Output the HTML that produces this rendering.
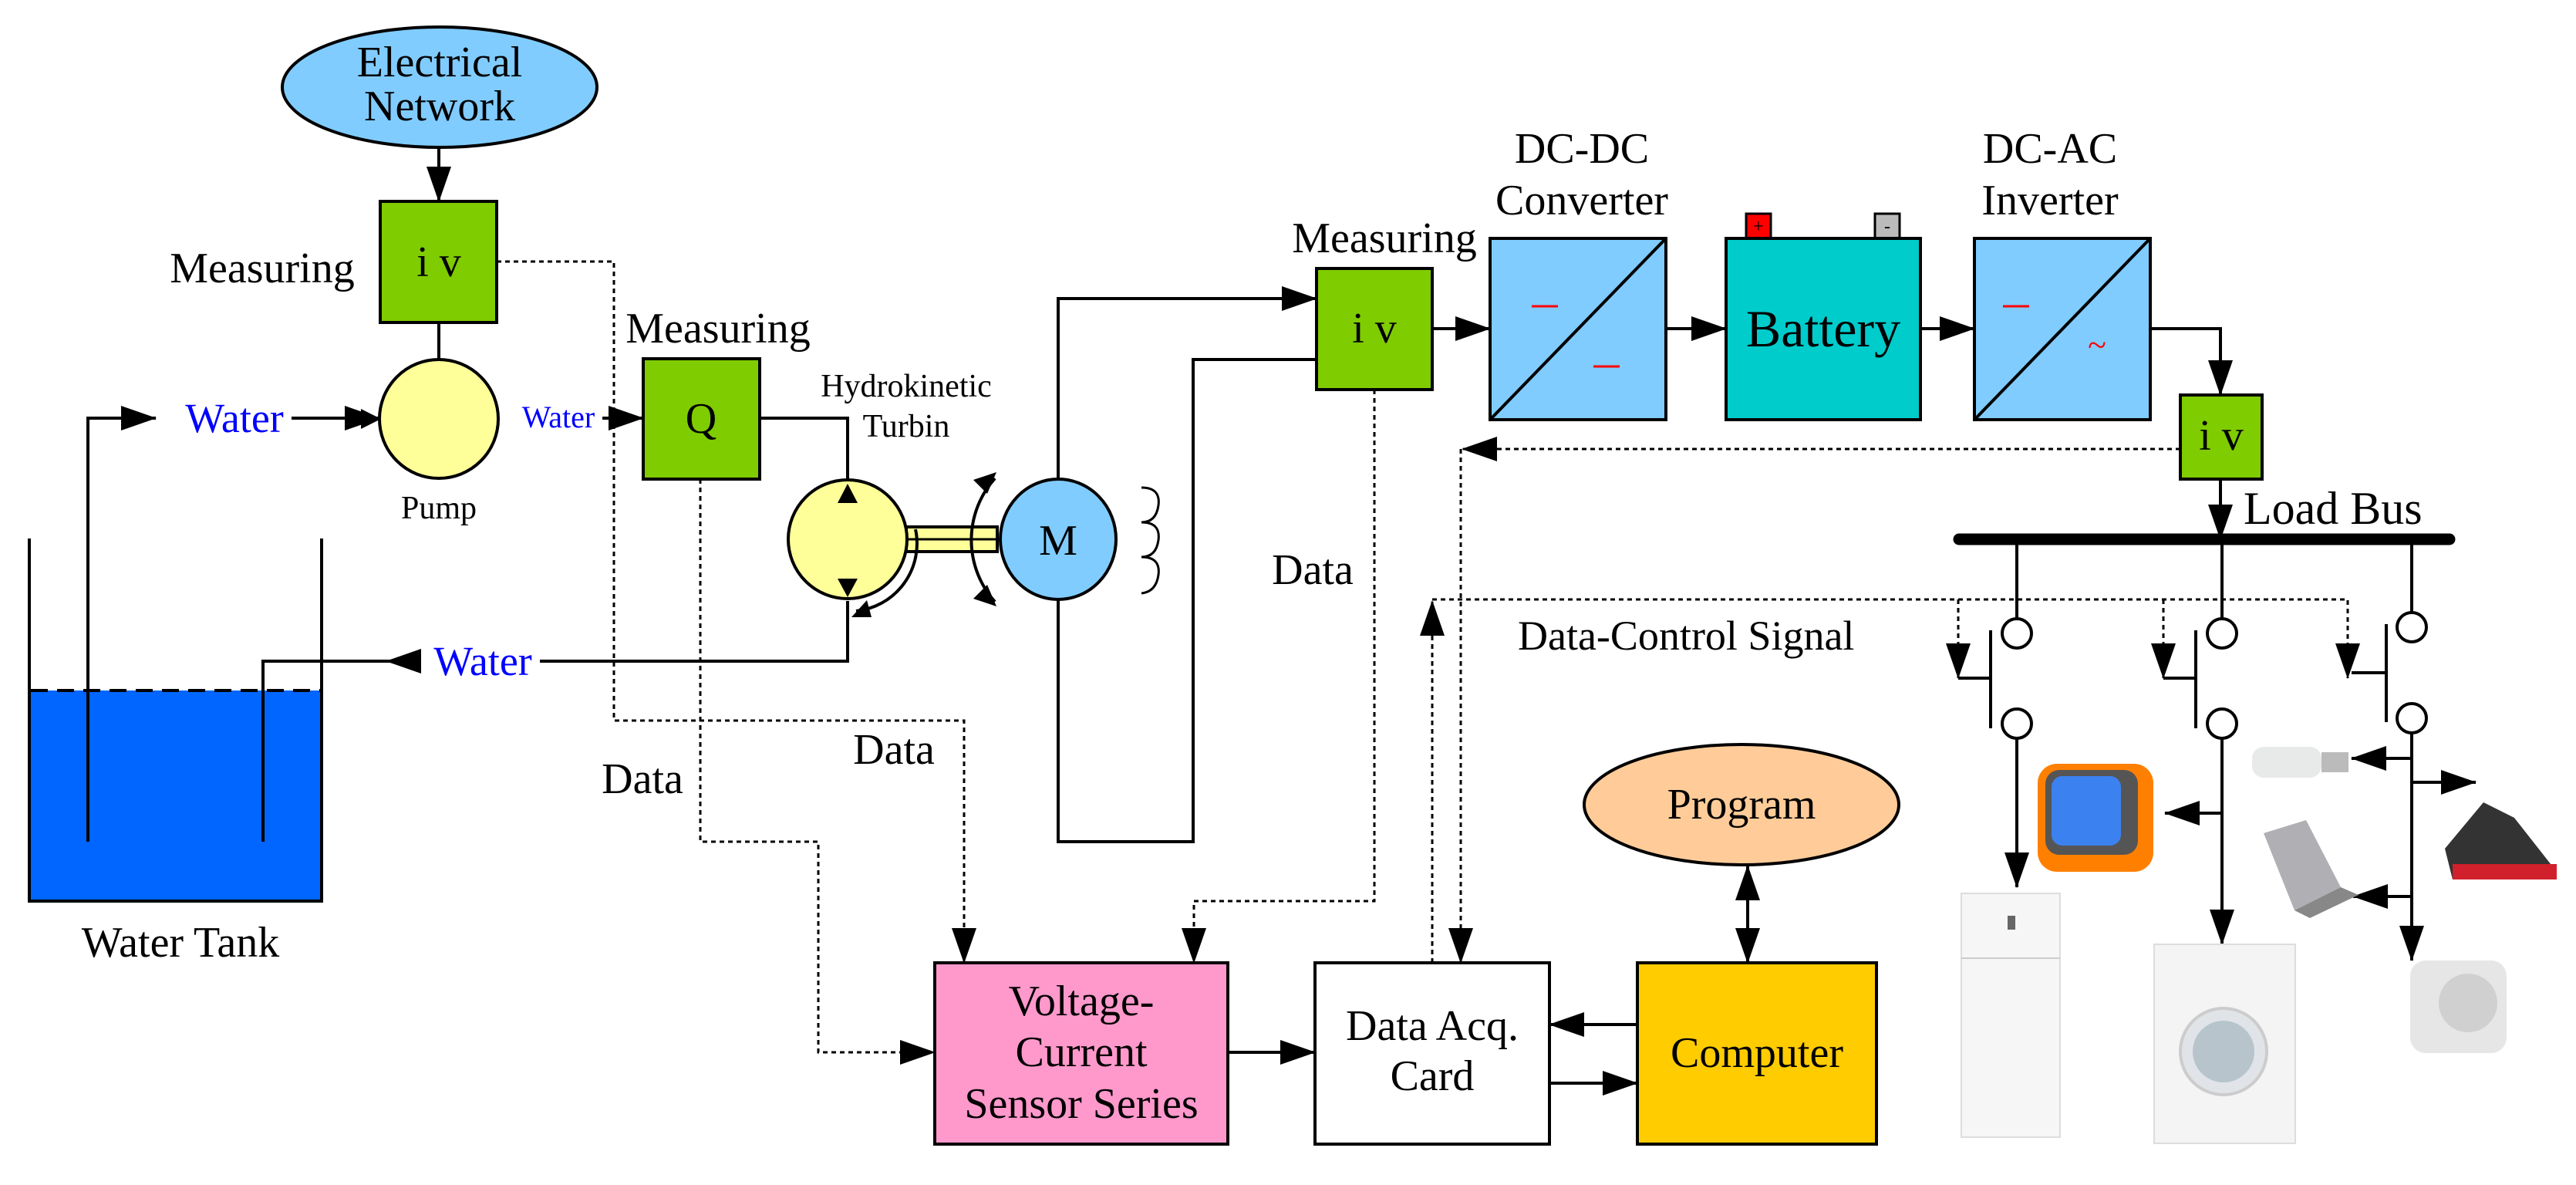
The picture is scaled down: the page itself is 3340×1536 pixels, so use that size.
<!DOCTYPE html>
<html><head><meta charset="utf-8"><style>
html,body{margin:0;padding:0;background:#fff}
svg{display:block}
text{font-family:"Liberation Serif",serif;fill:#000}
</style></head><body>
<svg width="3340" height="1536" viewBox="0 0 3340 1536" xmlns="http://www.w3.org/2000/svg">
<defs>
<marker id="a" markerUnits="userSpaceOnUse" markerWidth="46" markerHeight="32" refX="45" refY="16" orient="auto"><path d="M0,0 L46,16 L0,32 z" fill="#000"/></marker>
</defs>
<g stroke="#000" stroke-width="4" fill="none">
<ellipse cx="570" cy="113" rx="204" ry="78" fill="#80ccff"/>
<line x1="569" y1="191" x2="569" y2="261" marker-end="url(#a)"/>
<rect x="493" y="261" width="151" height="157" fill="#7fcc00"/>
<line x1="569" y1="418" x2="569" y2="465"/>
<circle cx="569" cy="543" r="77" fill="#ffff99"/>
<rect x="40" y="895" width="375" height="273" fill="#0066ff" stroke="none"/>
<polyline points="38,698 38,1168 417,1168 417,698"/>
<line x1="40" y1="895" x2="415" y2="895" stroke-dasharray="22,12"/>
<polyline points="114,1091 114,542 202,542" marker-end="url(#a)"/>
<line x1="378" y1="542" x2="492" y2="542" marker-end="url(#a)"/>
<line x1="781" y1="542" x2="834" y2="542" marker-end="url(#a)"/>
<rect x="834" y="465" width="151" height="156" fill="#7fcc00"/>
<polyline points="985,542 1099,542 1099,622"/>
<rect x="1175" y="683" width="118" height="32" fill="#ffff99"/>
<line x1="1175" y1="699" x2="1293" y2="699" stroke-width="3"/>
<circle cx="1099" cy="699" r="77" fill="#ffff99"/>
<path d="M1187,686 A88,88 0 0 1 1110,792" />
<path d="M1290,620 A120,120 0 0 0 1290,780"/>
<ellipse cx="1372" cy="699" rx="75" ry="78" fill="#80ccff"/>
<path d="M1480,632 q25,0 22,23 q-3,22 -22,22 q25,0 22,23 q-3,22 -22,22 q25,0 22,23 q-3,22 -22,24" stroke-width="3"/>
<polyline points="1099,779 1099,857 700,857" />
<polyline points="546,857 341,857 341,1091"/>
<polyline points="1372,621 1372,387 1707,387" marker-end="url(#a)"/>
<polyline points="1372,777 1372,1091 1547,1091 1547,466 1707,466"/>
<g stroke-width="3" stroke-dasharray="6,5">
<polyline points="644,339 796,339 796,934 1250,934 1250,1248" marker-end="url(#a)"/>
<polyline points="908,621 908,1091 1061,1091 1061,1364 1212,1364" marker-end="url(#a)"/>
<polyline points="1782,505 1782,1168 1548,1168 1548,1248" marker-end="url(#a)"/>
<polyline points="2827,582 1896,582" marker-end="url(#a)"/>
<polyline points="1894,582 1894,1248" marker-end="url(#a)"/>
<polyline points="1857,1248 1857,779" marker-end="url(#a)"/>
<polyline points="1857,777 3044,777 3044,879" marker-end="url(#a)"/>
<polyline points="2539,777 2539,879" marker-end="url(#a)"/>
<polyline points="2805,777 2805,879" marker-end="url(#a)"/>
</g>
<rect x="1212" y="1248" width="380" height="235" fill="#ff99cc"/>
<line x1="1592" y1="1364" x2="1705" y2="1364" marker-end="url(#a)"/>
<rect x="1705" y="1248" width="304" height="235" fill="#fff"/>
<rect x="2123" y="1248" width="310" height="235" fill="#ffcc00"/>
<line x1="2123" y1="1328" x2="2009" y2="1328" marker-end="url(#a)"/>
<line x1="2009" y1="1404" x2="2123" y2="1404" marker-end="url(#a)"/>
<ellipse cx="2258" cy="1043" rx="204" ry="78" fill="#ffcc99"/>
<line x1="2266" y1="1180" x2="2266" y2="1248" marker-end="url(#a)"/>
<line x1="2266" y1="1190" x2="2266" y2="1122" marker-end="url(#a)"/>
<rect x="1707" y="348" width="150" height="157" fill="#7fcc00"/>
<line x1="1857" y1="426" x2="1932" y2="426" marker-end="url(#a)"/>
<rect x="1932" y="309" width="228" height="235" fill="#80ccff"/>
<line x1="1932" y1="544" x2="2160" y2="309"/>
<line x1="2160" y1="426" x2="2238" y2="426" marker-end="url(#a)"/>
<rect x="2264" y="277" width="32" height="32" fill="#ff0000" stroke-width="3"/>
<rect x="2431" y="277" width="32" height="32" fill="#bbbbbb" stroke-width="3"/>
<rect x="2238" y="309" width="252" height="235" fill="#00cccc"/>
<line x1="2490" y1="426" x2="2560" y2="426" marker-end="url(#a)"/>
<rect x="2560" y="309" width="228" height="235" fill="#80ccff"/>
<line x1="2560" y1="544" x2="2788" y2="309"/>
<polyline points="2788,426 2879,426 2879,512" marker-end="url(#a)"/>
<rect x="2827" y="512" width="106" height="109" fill="#7fcc00"/>
<line x1="2879" y1="621" x2="2879" y2="699" marker-end="url(#a)"/>
<line x1="2540" y1="699" x2="3176" y2="699" stroke-width="15" stroke-linecap="round"/>
<line x1="2615" y1="699" x2="2615" y2="802"/><circle cx="2615" cy="821" r="19" fill="#fff"/>
<line x1="2581" y1="817" x2="2581" y2="944"/><line x1="2539" y1="879" x2="2581" y2="879"/>
<circle cx="2615" cy="938" r="19" fill="#fff"/><line x1="2615" y1="957" x2="2615" y2="1150" marker-end="url(#a)"/>
<line x1="2881" y1="699" x2="2881" y2="802"/><circle cx="2881" cy="821" r="19" fill="#fff"/>
<line x1="2847" y1="817" x2="2847" y2="944"/><line x1="2805" y1="879" x2="2847" y2="879"/>
<circle cx="2881" cy="938" r="19" fill="#fff"/><line x1="2881" y1="957" x2="2881" y2="1224" marker-end="url(#a)"/>
<line x1="2881" y1="1054" x2="2807" y2="1054" marker-end="url(#a)"/>
<line x1="3127" y1="699" x2="3127" y2="794"/><circle cx="3127" cy="813" r="19" fill="#fff"/>
<line x1="3094" y1="809" x2="3094" y2="936"/><line x1="3049" y1="872" x2="3094" y2="872"/>
<circle cx="3127" cy="931" r="19" fill="#fff"/><line x1="3127" y1="950" x2="3127" y2="1245" marker-end="url(#a)"/>
<line x1="3127" y1="983" x2="3049" y2="983" marker-end="url(#a)"/>
<line x1="3127" y1="1014" x2="3210" y2="1014" marker-end="url(#a)"/>
<line x1="3127" y1="1162" x2="3051" y2="1162" marker-end="url(#a)"/>
</g>
<polygon points="500,857 546,841 546,873" fill="#000"/>
<polygon points="468,530 494,543 468,556" fill="#000"/>
<polygon points="1086,652 1099,627 1112,652" fill="#000"/>
<polygon points="1086,750 1112,750 1099,774" fill="#000"/>
<polygon points="1104,800 1124,778 1130,800" fill="#000"/>
<polygon points="1262,622 1292,612 1280,640" fill="#000"/>
<polygon points="1262,776 1292,786 1280,758" fill="#000"/>
<line x1="1986" y1="397" x2="2020" y2="397" stroke="#ff0000" stroke-width="3"/>
<line x1="2066" y1="475" x2="2100" y2="475" stroke="#ff0000" stroke-width="3"/>
<line x1="2597" y1="397" x2="2631" y2="397" stroke="#ff0000" stroke-width="3"/>
<text x="2719" y="462" font-size="44" text-anchor="middle" style="fill:#ff0000">~</text>
<text x="2280" y="301" font-size="24" text-anchor="middle">+</text>
<text x="2447" y="301" font-size="24" text-anchor="middle">-</text>
<rect x="2543" y="1158" width="128" height="316" fill="#f6f6f6" stroke="#ddd" stroke-width="2"/>
<line x1="2543" y1="1242" x2="2671" y2="1242" stroke="#ccc" stroke-width="2"/>
<rect x="2603" y="1187" width="10" height="18" fill="#666"/>
<rect x="2642" y="990" width="150" height="140" rx="25" fill="#ff8000"/>
<rect x="2652" y="998" width="120" height="110" rx="18" fill="#555"/>
<rect x="2660" y="1006" width="90" height="90" rx="14" fill="#3b82f0"/>
<rect x="2793" y="1224" width="183" height="258" fill="#f4f4f4" stroke="#ddd" stroke-width="2"/>
<circle cx="2883" cy="1363" r="56" fill="#e0e4e8" stroke="#ccc" stroke-width="4"/>
<circle cx="2883" cy="1363" r="40" fill="#b8c4cc"/>
<rect x="2920" y="968" width="90" height="40" rx="15" fill="#e8eaea"/>
<rect x="3010" y="975" width="35" height="26" fill="#bbb"/>
<polygon points="2935,1080 2990,1063 3035,1150 2975,1180" fill="#b0b0b4"/>
<polygon points="2975,1180 3035,1150 3058,1160 2995,1190" fill="#888"/>
<polygon points="3170,1100 3220,1040 3260,1060 3315,1130 3180,1140" fill="#333"/>
<polygon points="3180,1120 3315,1120 3315,1140 3180,1140" fill="#d0202c"/>
<rect x="3125" y="1245" width="125" height="120" rx="20" fill="#e6e6e6"/>
<circle cx="3200" cy="1300" r="38" fill="#d0d0d0"/>
<g font-size="56" text-anchor="middle">
<text x="570" y="99">Electrical</text>
<text x="570" y="156">Network</text>
<text x="340" y="366">Measuring</text>
<text x="569" y="358">i v</text>
<text x="931" y="444">Measuring</text>
<text x="909" y="561">Q</text>
<text x="1372" y="719">M</text>
<text x="234" y="1240">Water Tank</text>
<text x="833" y="1028">Data</text>
<text x="1159" y="990">Data</text>
<text x="1702" y="757">Data</text>
<text x="1402" y="1316">Voltage-</text>
<text x="1402" y="1382">Current</text>
<text x="1402" y="1449">Sensor Series</text>
<text x="1795" y="327">Measuring</text>
<text x="1782" y="444">i v</text>
<text x="2051" y="211">DC-DC</text>
<text x="2051" y="278">Converter</text>
<text x="2658" y="211">DC-AC</text>
<text x="2658" y="278">Inverter</text>
<text x="2880" y="583">i v</text>
<text x="1857" y="1348">Data Acq.</text>
<text x="1857" y="1413">Card</text>
<text x="2258" y="1061">Program</text>
<text x="2278" y="1383">Computer</text>
<text x="2364" y="449" font-size="68">Battery</text>
</g>
<text x="1968" y="842" font-size="54">Data-Control Signal</text>
<text x="2909" y="679" font-size="60">Load Bus</text>
<text x="1175" y="514" font-size="42" text-anchor="middle">Hydrokinetic</text>
<text x="1175" y="566" font-size="42" text-anchor="middle">Turbin</text>
<text x="569" y="672" font-size="42" text-anchor="middle">Pump</text>
<text x="304" y="560" font-size="54" text-anchor="middle" style="fill:#0000ff">Water</text>
<text x="724" y="554" font-size="40" text-anchor="middle" style="fill:#0000ff">Water</text>
<text x="626" y="875" font-size="54" text-anchor="middle" style="fill:#0000ff">Water</text>
</svg>
</body></html>
